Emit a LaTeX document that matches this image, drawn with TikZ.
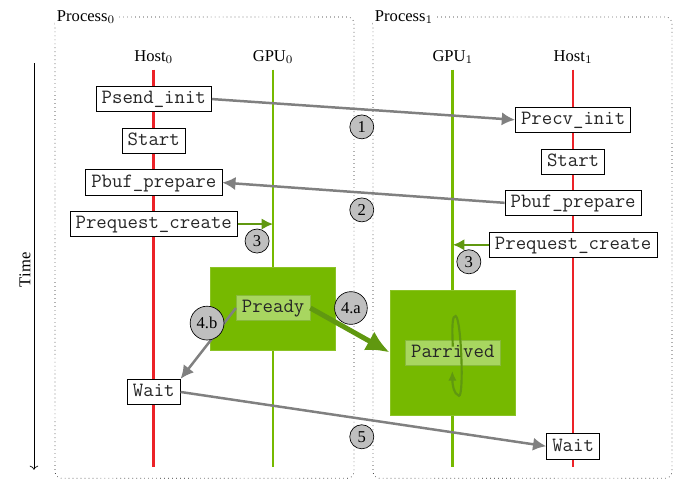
\documentclass[tikz,border=0pt]{standalone}
\usepackage{fontspec}
\setmainfont{Liberation Serif}
\usetikzlibrary{arrows.meta}

\definecolor{nvgreen}{RGB}{118,185,0}
\definecolor{darkgreen}{RGB}{96,152,16}
\definecolor{lightgreen}{RGB}{168,214,96}
\definecolor{hostred}{RGB}{236,34,40}

\begin{document}
\begin{tikzpicture}[
	frame/.style={black!85, dotted, rounded corners=4pt},
	framelabel/.style={fill=white, anchor=west, inner sep=1pt},
	hostline/.style={hostred, line width=1.6pt},
	gpuline/.style={nvgreen, line width=1.6pt},
	call/.style={draw, fill=white, text=black!85, font=\ttfamily\fontsize{12.2pt}{14pt}\selectfont, inner xsep=3.4pt, inner ysep=2.3pt, text height=8.3pt, text depth=2.5pt},
	gpucall/.style={call, draw=darkgreen!45!lightgreen, fill=lightgreen},
	gpublock/.style={fill=nvgreen, draw=nvgreen!85!white, inner sep=0pt},
	stepmark/.style={circle, draw, fill=black!25, inner sep=2.2pt},
	msg/.style={draw=black!50, line width=1.5pt, -{Latex[length=8pt,width=8pt]}},
	gpumsg/.style={draw=darkgreen, line width=1.4pt, -{Latex[length=7pt,width=7pt]}}
]
	\useasboundingbox (0,0) rectangle (14.48,-10.155);

	% processes
	\draw [frame] (1.166,-0.36) rectangle (7.505,-10.14);
	\node [framelabel] (proc0) at (1.166,-0.36) {Process$_0$};
	\draw [frame] (7.908,-0.36) rectangle (14.246,-10.14);
	\node [framelabel] (proc1) at (7.908,-0.36) {Process$_1$};

	% time axis
	\coordinate (t0) at (0.72,-1.34);
	\coordinate (t1) at (0.72,-9.96);
	\draw [->] (t0) -- (t1);
	\node [rotate=90] (time) at (0.53,-5.72) {Time};

	% life lines
	\coordinate (bottom) at (0,-9.9);
	\node (host0) at (3.26,-1.21) {Host$_0$};
	\node (gpu0) at (5.79,-1.21) {GPU$_0$};
	\node (gpu1) at (9.60,-1.21) {GPU$_1$};
	\node (host1) at (12.15,-1.21) {Host$_1$};
	\draw [hostline] (host0.south) -- (host0 |- bottom);
	\draw [gpuline] (gpu0.south) -- (gpu0 |- bottom);
	\draw [gpuline] (gpu1.south) -- (gpu1 |- bottom);
	\draw [hostline] (host1.south) -- (host1 |- bottom);

	% gpu work
	\node [gpublock, minimum width=2.65cm, minimum height=1.76cm] (blk0) at (5.79,-6.54) {};
	\node [gpublock, minimum width=2.67cm, minimum height=2.65cm] (blk1) at (9.60,-7.47) {};
	\node [gpucall] (ready) at (5.79,-6.53) {Pready};
	\node [gpucall] (arrived) at (9.60,-7.48) {Parrived};
	\draw [darkgreen, line width=1.3pt, -{Latex[length=6pt,width=5pt]}] (9.60,-7.35) .. controls (9.58,-6.9) and (9.59,-6.68) .. (9.66,-6.70) .. controls (9.78,-6.75) and (9.84,-8.42) .. (9.73,-8.39) .. controls (9.62,-8.36) and (9.59,-8.15) .. (9.59,-7.86);

	% host calls
	\node [call] (send) at (3.26,-2.10) {Psend\_init};
	\node [call] (start0) at (3.26,-2.99) {Start};
	\node [call] (buf0) at (3.26,-3.87) {Pbuf\_prepare};
	\node [call] (req0) at (3.26,-4.75) {Prequest\_create};
	\node [call] (wait0) at (3.26,-8.31) {Wait};
	\node [call] (recv) at (12.15,-2.54) {Precv\_init};
	\node [call] (start1) at (12.15,-3.43) {Start};
	\node [call] (buf1) at (12.15,-4.30) {Pbuf\_prepare};
	\node [call] (req1) at (12.15,-5.19) {Prequest\_create};
	\node [call] (wait1) at (12.15,-9.46) {Wait};

	% messages
	\draw [msg] (send.east) -- (recv.west);
	\draw [msg] (buf1.west) -- (buf0.east);
	\draw [gpumsg] (req0.east) -- (req0.east -| gpu0);
	\draw [gpumsg] (req1.west) -- (req1.west -| gpu1);
	\draw [darkgreen, line width=3pt, -{Latex[length=14pt,width=13pt]}] (ready.east) -- (blk1.west);
	\draw [msg] (ready.west) -- (wait0.north east);
	\draw [msg] (wait0.east) -- (wait1.west);

	% steps
	\node [stepmark] (s1) at (7.67,-2.69) {1};
	\node [stepmark] (s2) at (7.67,-4.45) {2};
	\node [stepmark] (s3a) at (5.45,-5.11) {3};
	\node [stepmark] (s3b) at (9.94,-5.55) {3};
	\node [stepmark] (s4a) at (7.44,-6.53) {4.a};
	\node [stepmark] (s4b) at (4.39,-6.85) {4.b};
	\node [stepmark] (s5) at (7.67,-9.26) {5};
\end{tikzpicture}
\end{document}
